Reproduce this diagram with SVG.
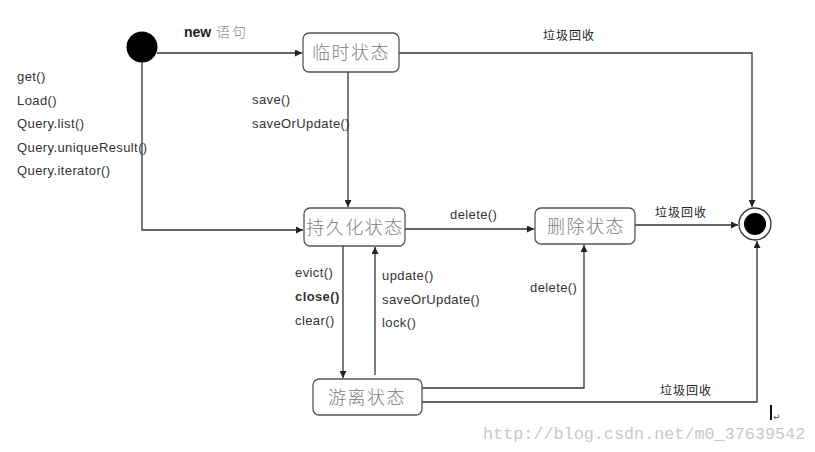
<svg xmlns="http://www.w3.org/2000/svg" width="815" height="452" viewBox="0 0 815 452">
<defs>
<marker id="ah" viewBox="0 0 10 10" refX="10" refY="5" markerWidth="7" markerHeight="7" markerUnits="userSpaceOnUse" orient="auto">
<path d="M0,0 L10,5 L0,10 z" fill="#222"/>
</marker>
<style>
.box{fill:#fff;stroke:#555;stroke-width:1.3}
.st{font-family:"Noto Sans CJK SC",sans-serif;font-size:18px;font-weight:300;fill:#808080;text-anchor:middle;letter-spacing:1.5px}
.ln{fill:none;stroke:#333;stroke-width:1.3}
.lb{font-family:"Liberation Sans",Arial,sans-serif;font-size:13px;fill:#333;letter-spacing:0.4px}
.cn{font-family:"Noto Sans CJK SC",sans-serif;font-size:12px;fill:#222;letter-spacing:1px}
</style>
</defs>
<rect width="815" height="452" fill="#fff"/>
<g id="connectors">
<path class="ln" d="M157,53 H302" marker-end="url(#ah)"/>
<path class="ln" d="M399,53 H752 V207" marker-end="url(#ah)"/>
<path class="ln" d="M348,72 V207" marker-end="url(#ah)"/>
<path class="ln" d="M142,62 V230 H303" marker-end="url(#ah)"/>
<path class="ln" d="M405,229 H534" marker-end="url(#ah)"/>
<path class="ln" d="M635,225 H738" marker-end="url(#ah)"/>
<path class="ln" d="M343,246 V378" marker-end="url(#ah)"/>
<path class="ln" d="M375,375 V247" marker-end="url(#ah)"/>
<path class="ln" d="M422,388 H584 V245" marker-end="url(#ah)"/>
<path class="ln" d="M422,402 H757 V241" marker-end="url(#ah)"/>
</g>
<g id="start"><circle cx="142" cy="47" r="15.5" fill="#000"/></g>
<g id="end"><circle cx="755" cy="224" r="16" fill="#fff" stroke="#333" stroke-width="1.3"/><circle cx="755" cy="224" r="11" fill="#000"/></g>
<g id="transient"><rect class="box" x="303" y="33" width="96" height="39" rx="6"/><text class="st" x="351" y="59">临时状态</text></g>
<g id="persistent"><rect class="box" x="304" y="208" width="101" height="38" rx="6"/><text class="st" x="355" y="234">持久化状态</text></g>
<g id="deleted"><rect class="box" x="535" y="208" width="100" height="36" rx="6"/><text class="st" x="586" y="233">删除状态</text></g>
<g id="detached"><rect class="box" x="313" y="379" width="109" height="36" rx="6"/><text class="st" x="367" y="404">游离状态</text></g>
<g id="labels">
<text x="184" y="37" font-family="Liberation Sans,Arial,sans-serif" font-size="14" font-weight="bold" fill="#222">new</text>
<text x="216" y="37" font-family="Noto Sans CJK SC,sans-serif" font-size="14" font-weight="300" fill="#888" letter-spacing="2">语句</text>
<text class="cn" x="543" y="40">垃圾回收</text>
<text class="cn" x="655" y="217">垃圾回收</text>
<text class="cn" x="660" y="395">垃圾回收</text>
<text class="lb" x="17" y="81">get()</text>
<text class="lb" x="17" y="105">Load()</text>
<text class="lb" x="17" y="128">Query.list()</text>
<text class="lb" x="17" y="152">Query.uniqueResult()</text>
<text class="lb" x="17" y="175">Query.iterator()</text>
<text class="lb" x="252" y="104">save()</text>
<text class="lb" x="252" y="128">saveOrUpdate()</text>
<text class="lb" x="450" y="219">delete()</text>
<text class="lb" x="530" y="292">delete()</text>
<text class="lb" x="295" y="277">evict()</text>
<text class="lb" x="295" y="301" font-weight="bold" fill="#111">close()</text>
<text class="lb" x="295" y="325">clear()</text>
<text class="lb" x="382" y="280">update()</text>
<text class="lb" x="382" y="304">saveOrUpdate()</text>
<text class="lb" x="382" y="327">lock()</text>
<rect x="770" y="405" width="2" height="15" fill="#111"/>
<text x="773" y="420" font-family="DejaVu Sans,sans-serif" font-size="9" fill="#555">↵</text>
<text x="483" y="439" font-family="Liberation Mono,monospace" font-size="16.8" fill="#c8c8c8">http://blog.csdn.net/m0_37639542</text>
</g>
</svg>
